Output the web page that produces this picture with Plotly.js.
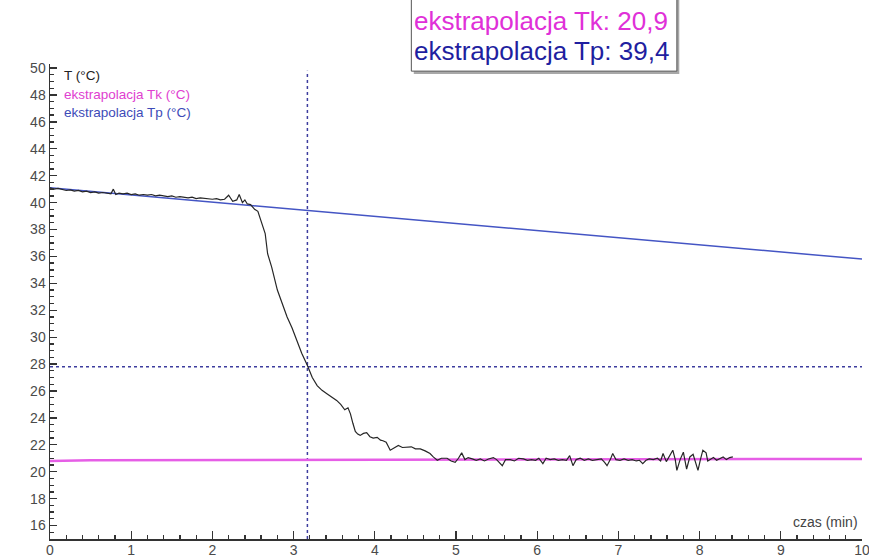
<!DOCTYPE html>
<html>
<head>
<meta charset="utf-8">
<script src="https://cdn.plot.ly/plotly-3.0.1.min.js"></script>
<style>html,body{margin:0;padding:0;background:#fff;}#chart{width:869px;height:557px;}</style>
</head>
<body>
<div id="chart"></div>
<script>
// Measured temperature T (°C) vs time (min)
const timeMin = [
  0.00,0.05,0.10,0.15,0.20,0.25,0.30,0.35,0.40,0.45,0.50,0.55,0.60,0.65,0.70,0.75,0.78,0.81,0.85,0.90,
  0.95,1.00,1.05,1.10,1.15,1.20,1.25,1.30,1.35,1.40,1.45,1.50,1.55,1.60,1.65,1.70,1.75,1.80,1.85,1.90,
  1.95,2.00,2.05,2.10,2.15,2.20,2.25,2.30,2.33,2.37,2.40,2.43,2.47,2.52,2.56,2.61,2.65,2.68,2.73,2.80,
  2.86,2.92,2.98,3.04,3.10,3.17,3.23,3.29,3.35,3.41,3.47,3.53,3.58,3.63,3.67,3.70,3.73,3.76,3.79,3.82,
  3.86,3.90,3.94,3.98,4.03,4.07,4.10,4.14,4.19,4.23,4.29,4.34,4.40,4.45,4.50,4.56,4.62,4.68,4.72,4.77,
  4.82,4.89,4.94,4.99,5.03,5.07,5.11,5.15,5.20,5.25,5.30,5.35,5.40,5.46,5.50,5.54,5.57,5.61,5.67,5.72,
  5.77,5.83,5.88,5.93,5.98,6.02,6.07,6.11,6.16,6.21,6.26,6.31,6.36,6.40,6.44,6.48,6.53,6.58,6.63,6.68,
  6.74,6.79,6.83,6.86,6.90,6.93,6.97,7.02,7.07,7.12,7.17,7.22,7.26,7.30,7.34,7.38,7.43,7.48,7.52,7.55,
  7.59,7.63,7.67,7.70,7.72,7.76,7.80,7.84,7.88,7.92,7.96,7.98,8.01,8.04,8.08,8.10,8.14,8.17,8.21,8.25,
  8.29,8.33,8.37,8.41
];
const tempC = [
  41.10,41.00,41.05,40.95,40.90,40.95,40.85,40.90,40.80,40.85,40.75,40.80,40.70,40.75,40.70,40.65,41.00,40.60,40.70,40.65,
  40.70,40.60,40.65,40.55,40.60,40.55,40.60,40.50,40.55,40.50,40.45,40.50,40.40,40.45,40.40,40.35,40.40,40.30,40.35,40.30,
  40.30,40.25,40.30,40.20,40.25,40.55,40.10,40.20,40.60,40.00,40.20,39.90,39.85,39.50,39.35,38.50,37.70,36.20,35.20,33.50,
  32.50,31.50,30.70,29.80,28.80,27.90,27.00,26.40,26.05,25.80,25.55,25.30,25.00,24.60,24.75,24.30,23.60,23.00,22.80,22.70,
  22.85,22.90,22.60,22.50,22.55,22.35,22.30,22.20,21.60,21.75,21.95,21.80,21.80,21.85,21.70,21.70,21.55,21.35,21.10,20.85,
  21.00,21.00,20.80,20.70,21.00,21.40,20.90,21.05,20.95,20.85,20.95,20.80,20.95,21.05,20.90,20.60,20.45,20.90,20.90,20.80,
  21.00,20.95,20.85,20.90,20.85,21.00,20.60,21.00,20.90,20.95,20.85,20.90,20.85,21.20,20.45,20.90,21.00,20.85,20.95,20.85,
  20.90,20.95,20.70,20.45,20.90,21.35,20.90,20.85,20.95,20.85,20.90,20.80,20.85,20.60,20.85,20.95,20.90,21.00,20.80,21.35,
  20.75,21.20,21.60,20.90,20.10,20.90,21.45,20.20,21.10,21.30,20.60,20.10,20.90,21.60,21.40,20.80,20.95,21.05,20.85,21.00,
  21.10,20.90,21.05,21.10
];
// Extrapolation lines
const tkTime = [0, 0.5, 10];
const tkTemp = [20.80, 20.85, 20.95];
const tpTime = [0, 10];
const tpTemp = [41.1, 35.8];
// Crossing point (dotted guides)
const crossTime = [3.17, 3.17];
const crossTimeSpan = [15, 49.8];
const crossTempX = [0, 10];
const crossTemp = [27.8, 27.8];
// Labels
const seriesLabels = ["T (°C)", "ekstrapolacja Tk (°C)", "ekstrapolacja Tp (°C)"];
const resultLabels = ["ekstrapolacja Tk: 20,9", "ekstrapolacja Tp: 39,4"];
const xTitle = "czas (min)";

const FONT = "Liberation Sans, Arial, sans-serif";
const guideColor = "#3d3d9e";

const traces = [
  {x: crossTime, y: crossTimeSpan, mode: "lines", line: {color: guideColor, width: 1.5, dash: "dot"}, hoverinfo: "skip"},
  {x: crossTempX, y: crossTemp, mode: "lines", line: {color: guideColor, width: 1.5, dash: "dot"}, hoverinfo: "skip"},
  {x: tkTime, y: tkTemp, mode: "lines", line: {color: "#e65ee6", width: 2.5}},
  {x: tpTime, y: tpTemp, mode: "lines", line: {color: "#4455c4", width: 1.5}},
  {x: timeMin, y: tempC, mode: "lines", line: {color: "#262626", width: 1.2}}
];

const layout = {
  width: 869, height: 557,
  margin: {l: 50, r: 7, t: 64, b: 18, pad: 0},
  paper_bgcolor: "#ffffff", plot_bgcolor: "#ffffff",
  showlegend: false,
  font: {family: FONT, size: 14, color: "#4a4a4a"},
  xaxis: {
    range: [0, 10], dtick: 1, tick0: 0,
    showgrid: false, zeroline: false,
    showline: true, linecolor: "#333", linewidth: 1.5,
    ticks: "inside", ticklen: 8, tickwidth: 1.3, tickcolor: "#333",
    minor: {dtick: 0.2, ticks: "inside", ticklen: 4, tickcolor: "#333", showgrid: false},
    tickfont: {family: FONT, size: 14, color: "#4a4a4a"},
    ticklabelstandoff: -2,
    ticklabeloverflow: "allow"
  },
  yaxis: {
    range: [15, 50.3], dtick: 2, tick0: 0,
    showgrid: false, zeroline: false,
    showline: true, linecolor: "#333", linewidth: 1.5,
    ticks: "inside", ticklen: 7, tickwidth: 1.3, tickcolor: "#333",
    minor: {dtick: 0.5, ticks: "inside", ticklen: 4, tickcolor: "#333", showgrid: false},
    tickfont: {family: FONT, size: 14, color: "#4a4a4a"},
    ticklabeloverflow: "allow"
  },
  shapes: [
    {type: "rect", xref: "paper", yref: "paper", x0: 0.448, x1: 0.775, y0: 0.979, y1: 1.2,
     line: {width: 0}, fillcolor: "#a8a8a8", layer: "above"},
    {type: "rect", xref: "paper", yref: "paper", x0: 0.445, x1: 0.772, y0: 0.985, y1: 1.2,
     line: {color: "#555", width: 1}, fillcolor: "#ffffff", layer: "above"}
  ],
  annotations: [
    {xref: "paper", yref: "paper", x: 0.0148, y: 0.975, xanchor: "left", yanchor: "middle", showarrow: false,
     text: seriesLabels[0], font: {family: FONT, size: 13.5, color: "#222"}},
    {xref: "paper", yref: "paper", x: 0.0148, y: 0.936, xanchor: "left", yanchor: "middle", showarrow: false,
     text: seriesLabels[1], font: {family: FONT, size: 13.5, color: "#e040d0"}},
    {xref: "paper", yref: "paper", x: 0.0148, y: 0.897, xanchor: "left", yanchor: "middle", showarrow: false,
     text: seriesLabels[2], font: {family: FONT, size: 13.5, color: "#3d4bb8"}},
    {xref: "paper", yref: "paper", x: 0.9975, y: 0.036, xanchor: "right", yanchor: "middle", showarrow: false,
     text: xTitle, font: {family: FONT, size: 14, color: "#444"}},
    {xref: "paper", yref: "paper", x: 0.446, y: 1.091, xanchor: "left", yanchor: "middle", showarrow: false,
     text: resultLabels[0], font: {family: FONT, size: 26, color: "#e030d8"}},
    {xref: "paper", yref: "paper", x: 0.446, y: 1.027, xanchor: "left", yanchor: "middle", showarrow: false,
     text: resultLabels[1], font: {family: FONT, size: 26, color: "#1f1fa0"}}
  ]
};

Plotly.newPlot("chart", traces, layout, {displayModeBar: false, staticPlot: true});
</script>
</body>
</html>
